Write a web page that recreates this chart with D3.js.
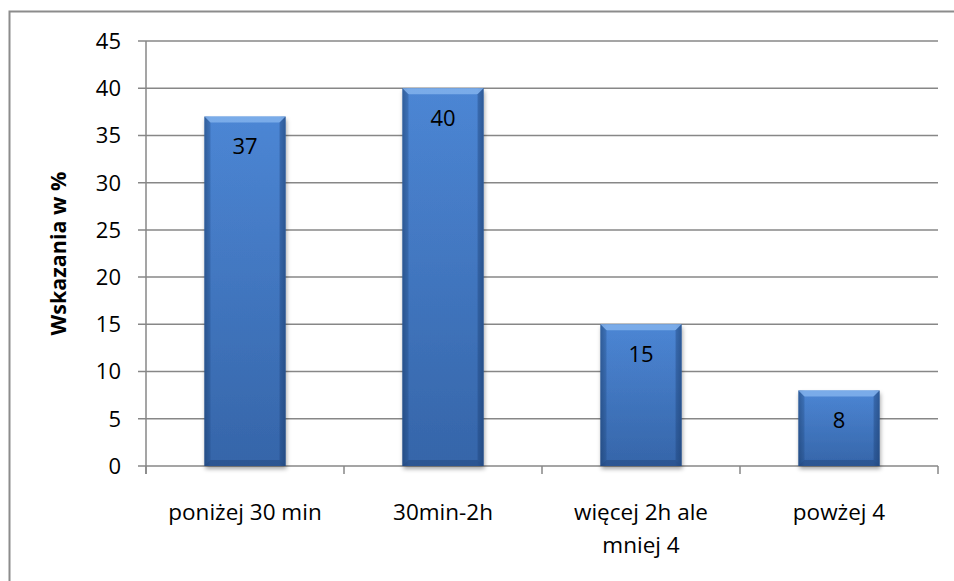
<!DOCTYPE html>
<html>
<head>
<meta charset="utf-8">
<script src="https://cdn.jsdelivr.net/npm/d3@7"></script>
<style>
  html, body { margin: 0; padding: 0; background: #fff; }
  svg { display: block; font-family: "Open Sans", Lato, sans-serif; }
</style>
</head>
<body>
<svg id="chart" width="954" height="581"></svg>
<script>
const categories = ["poniżej 30 min", "30min-2h", "więcej 2h ale mniej 4", "powżej 4"];
const categoryLines = [["poniżej 30 min"], ["30min-2h"], ["więcej 2h ale", "mniej 4"], ["powżej 4"]];
const values = [37, 40, 15, 8];
const yTicks = [0, 5, 10, 15, 20, 25, 30, 35, 40, 45];
const yTitle = "Wskazania w %";

const svg = d3.select("#chart");
const W = 954, H = 581;
const m = { left: 146, right: 16, top: 41, bottom: 115 };
const iw = W - m.left - m.right, ih = H - m.top - m.bottom;

// outer border
svg.append("rect").attr("x", 9.5).attr("y", 11.5).attr("width", 960).attr("height", 600)
  .attr("fill", "none").attr("stroke", "#8c8c8c").attr("stroke-width", 2);

const defs = svg.append("defs");
const gV = defs.append("linearGradient").attr("id", "barV").attr("x1", 0).attr("x2", 0).attr("y1", 0).attr("y2", 1);
gV.append("stop").attr("offset", "0%").attr("stop-color", "#4f8ada");
gV.append("stop").attr("offset", "100%").attr("stop-color", "#3768ad");
const gH = defs.append("linearGradient").attr("id", "barH").attr("x1", 0).attr("x2", 1).attr("y1", 0).attr("y2", 0);
gH.append("stop").attr("offset", "0%").attr("stop-color", "#0d2447").attr("stop-opacity", 0.35);
gH.append("stop").attr("offset", "8%").attr("stop-color", "#0d2447").attr("stop-opacity", 0.04);
gH.append("stop").attr("offset", "92%").attr("stop-color", "#0d2447").attr("stop-opacity", 0.04);
gH.append("stop").attr("offset", "100%").attr("stop-color", "#0d2447").attr("stop-opacity", 0.35);
const f = defs.append("filter").attr("id", "shadow").attr("x", "-20%").attr("y", "-10%").attr("width", "140%").attr("height", "130%");
f.append("feDropShadow").attr("dx", 1).attr("dy", 3).attr("stdDeviation", 2).attr("flood-color", "#000").attr("flood-opacity", 0.35);

const g = svg.append("g").attr("transform", `translate(${m.left},${m.top})`);

const x = d3.scaleBand().domain(categories).range([0, iw]).paddingInner(0.59).paddingOuter(0.295);
const xb = d3.scaleBand().domain(categories).range([0, iw]).padding(0);
const y = d3.scaleLinear().domain([0, 45]).range([ih, 0]);

// gridlines
g.append("g").selectAll("line").data(yTicks).join("line")
  .attr("x1", -8).attr("x2", iw).attr("y1", d => y(d)).attr("y2", d => y(d))
  .attr("stroke", "#878787").attr("stroke-width", 1.5);

// y axis line
g.append("line").attr("x1", 0).attr("x2", 0).attr("y1", 0).attr("y2", ih + 8)
  .attr("stroke", "#878787").attr("stroke-width", 1.5);

// x category ticks
const xt = categories.map(c => xb(c)).concat([iw]);
g.append("g").selectAll("line").data(xt).join("line")
  .attr("x1", d => d).attr("x2", d => d).attr("y1", ih).attr("y2", ih + 8)
  .attr("stroke", "#878787").attr("stroke-width", 1.5);

// y labels
g.append("g").selectAll("text").data(yTicks).join("text")
  .attr("x", -25).attr("y", d => y(d)).attr("dy", "0.36em")
  .attr("text-anchor", "end").attr("font-size", 22).attr("fill", "#000")
  .text(d => d);

// bars
const bars = g.append("g").selectAll("g").data(values).join("g")
  .attr("transform", (d, i) => `translate(${x(categories[i])},${y(d)})`);
const bw = x.bandwidth();
bars.append("rect").attr("width", bw).attr("height", d => ih - y(d))
  .attr("fill", "url(#barV)").attr("filter", "url(#shadow)");
bars.append("rect").attr("width", bw).attr("height", d => ih - y(d))
  .attr("fill", "url(#barH)");
const bev = 6;
// top bevel
bars.append("polygon").attr("points", `0,0 ${bw},0 ${bw - bev},${bev} ${bev},${bev}`)
  .attr("fill", "#8ab8f0").attr("opacity", 0.75);
// left bevel
bars.append("polygon").attr("points", d => `0,0 ${bev},${bev} ${bev},${ih - y(d) - bev} 0,${ih - y(d)}`)
  .attr("fill", "#1d4278").attr("opacity", 0.25);
// right bevel
bars.append("polygon").attr("points", d => `${bw},0 ${bw - bev},${bev} ${bw - bev},${ih - y(d) - bev} ${bw},${ih - y(d)}`)
  .attr("fill", "#1d4278").attr("opacity", 0.35);
// bottom bevel
bars.append("polygon").attr("points", d => { const h = ih - y(d); return `0,${h} ${bev},${h - bev} ${bw - bev},${h - bev} ${bw},${h}`; })
  .attr("fill", "#1d3f70").attr("opacity", 0.4);

// value labels
bars.append("text").attr("x", bw / 2).attr("y", 30).attr("dy", "0.36em")
  .attr("text-anchor", "middle").attr("font-size", 22).attr("fill", "#000")
  .text(d => d);

// x labels
const xl = g.append("g").selectAll("text").data(categoryLines).join("text")
  .attr("x", (d, i) => xb(categories[i]) + xb.bandwidth() / 2)
  .attr("y", ih + 54).attr("text-anchor", "middle").attr("font-size", 22.5).attr("fill", "#000");
xl.selectAll("tspan").data(d => d).join("tspan")
  .attr("x", function() { return this.parentNode.getAttribute("x"); })
  .attr("dy", (d, i) => i === 0 ? 0 : 33)
  .text(d => d);

// y title
svg.append("text").attr("transform", `translate(66,${m.top + ih / 2}) rotate(-90)`)
  .attr("text-anchor", "middle").attr("font-size", 21.5).attr("font-weight", "bold").attr("fill", "#000")
  .text(yTitle);
</script>
</body>
</html>
